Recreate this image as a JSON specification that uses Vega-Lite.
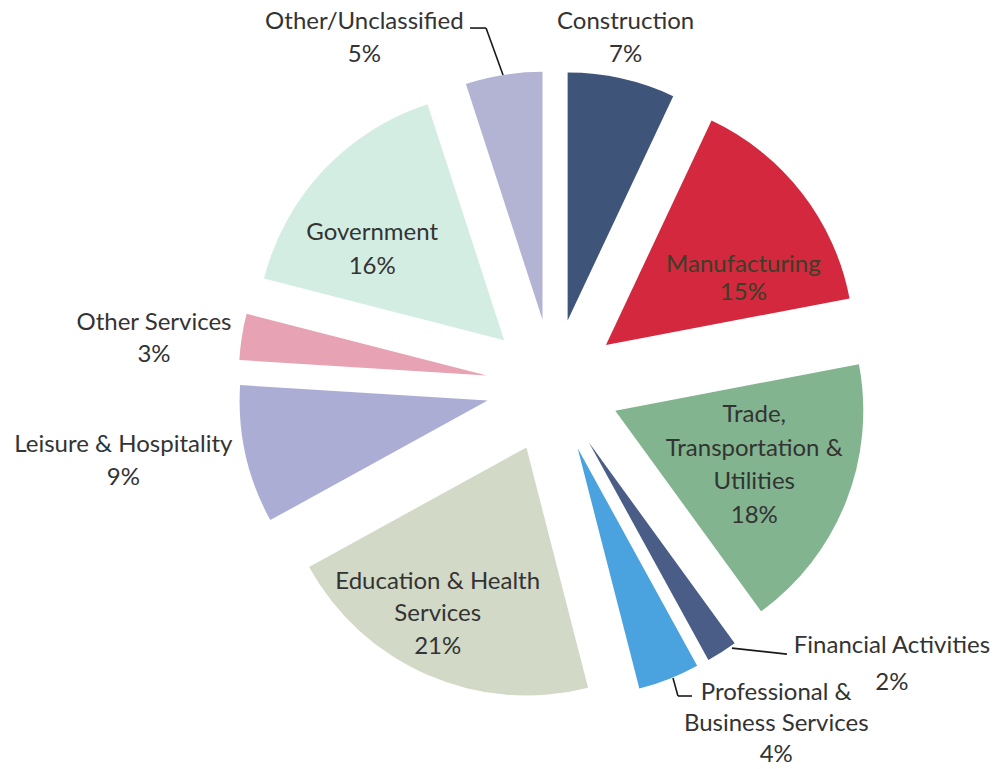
{
  "$schema": "https://vega.github.io/schema/vega-lite/v6.json",
  "width": 994,
  "height": 769,
  "autosize": {"type": "none"},
  "padding": 0,
  "background": "white",
  "config": {"view": {"stroke": null}},
  "data": {
    "values": [
      {"sector": "Construction", "share": 7, "label": "Construction\n7%"},
      {"sector": "Manufacturing", "share": 15, "label": "Manufacturing\n15%"},
      {"sector": "Trade, Transportation & Utilities", "share": 18, "label": "Trade,\nTransportation &\nUtilities\n18%"},
      {"sector": "Financial Activities", "share": 2, "label": "Financial Activities\n2%"},
      {"sector": "Professional & Business Services", "share": 4, "label": "Professional &\nBusiness Services\n4%"},
      {"sector": "Education & Health Services", "share": 21, "label": "Education & Health\nServices\n21%"},
      {"sector": "Leisure & Hospitality", "share": 9, "label": "Leisure & Hospitality\n9%"},
      {"sector": "Other Services", "share": 3, "label": "Other Services\n3%"},
      {"sector": "Government", "share": 16, "label": "Government\n16%"},
      {"sector": "Other/Unclassified", "share": 5, "label": "Other/Unclassified\n5%"}
    ]
  },
  "transform": [
    {"window": [{"op": "sum", "field": "share", "as": "cumEnd"}], "frame": [null, 0]},
    {"calculate": "datum.cumEnd - datum.share", "as": "cumStart"},
    {"calculate": "datum.cumEnd - datum.share / 2", "as": "mid"},
    {"calculate": "sin(2 * PI * datum.mid / 100)", "as": "ex"},
    {"calculate": "cos(2 * PI * datum.mid / 100)", "as": "ey"}
  ],
  "encoding": {
    "x": {"field": "ex", "type": "quantitative", "stack": null, "axis": null, "scale": {"domain": [-8.254, 6.582], "nice": false, "zero": false}},
    "y": {"field": "ey", "type": "quantitative", "stack": null, "axis": null, "scale": {"domain": [-5.716, 5.761], "nice": false, "zero": false}}
  },
  "layer": [
    {
      "mark": {"type": "arc", "radius": 248, "innerRadius": 0},
      "encoding": {
        "theta": {"field": "cumStart", "type": "quantitative", "stack": null, "scale": {"domain": [0, 100], "range": [0, 6.283185307179586]}},
        "theta2": {"field": "cumEnd"},
        "color": {
          "field": "sector", "type": "nominal", "legend": null,
          "scale": {
            "domain": ["Construction", "Manufacturing", "Trade, Transportation & Utilities", "Financial Activities", "Professional & Business Services", "Education & Health Services", "Leisure & Hospitality", "Other Services", "Government", "Other/Unclassified"],
            "range": ["#3f5479", "#d3283d", "#82b48f", "#4a5d86", "#4aa2de", "#d2d9c7", "#acadd4", "#e7a3b4", "#d4ede3", "#b3b3d3"]
          }
        }
      }
    },
    {
      "transform": [{"filter": "datum.sector === 'Other/Unclassified'"}],
      "mark": {"type": "rule", "stroke": "#1a1a1a", "strokeWidth": 1.6, "xOffset": -72.5, "yOffset": -291.8, "x2Offset": -56.5, "y2Offset": -291.8},
      "encoding": {"x2": {"field": "ex"}, "y2": {"field": "ey"}}
    },
    {
      "transform": [{"filter": "datum.sector === 'Other/Unclassified'"}],
      "mark": {"type": "rule", "stroke": "#1a1a1a", "strokeWidth": 1.6, "xOffset": -56.5, "yOffset": -291.8, "x2Offset": -39.5, "y2Offset": -244.8},
      "encoding": {"x2": {"field": "ex"}, "y2": {"field": "ey"}}
    },
    {
      "transform": [{"filter": "datum.sector === 'Financial Activities'"}],
      "mark": {"type": "rule", "stroke": "#1a1a1a", "strokeWidth": 1.6, "xOffset": 143, "yOffset": 205.5, "x2Offset": 198, "y2Offset": 211.5},
      "encoding": {"x2": {"field": "ex"}, "y2": {"field": "ey"}}
    },
    {
      "transform": [{"filter": "datum.sector === 'Professional & Business Services'"}],
      "mark": {"type": "rule", "stroke": "#1a1a1a", "strokeWidth": 1.6, "xOffset": 95.3, "yOffset": 229.7, "x2Offset": 100.3, "y2Offset": 247.7},
      "encoding": {"x2": {"field": "ex"}, "y2": {"field": "ey"}}
    },
    {
      "transform": [{"filter": "datum.sector === 'Professional & Business Services'"}],
      "mark": {"type": "rule", "stroke": "#1a1a1a", "strokeWidth": 1.6, "xOffset": 100.3, "yOffset": 247.7, "x2Offset": 114.3, "y2Offset": 247.7},
      "encoding": {"x2": {"field": "ex"}, "y2": {"field": "ey"}}
    },
    {
      "transform": [{"filter": "datum.sector === 'Construction'"}],
      "mark": {"type": "text", "radius": 304, "thetaOffset": -0.028, "font": "Lato", "fontSize": 24, "lineHeight": 33, "lineBreak": "\n", "fill": "#333333", "align": "center", "baseline": "middle"},
      "encoding": {"theta": {"field": "mid", "type": "quantitative", "stack": null}, "text": {"field": "label"}}
    },
    {
      "transform": [{"filter": "datum.sector === 'Manufacturing'"}],
      "mark": {"type": "text", "radius": 159, "thetaOffset": 0.133, "font": "Lato", "fontSize": 24, "lineHeight": 28, "lineBreak": "\n", "fill": "#3a3f2a", "align": "center", "baseline": "middle"},
      "encoding": {"theta": {"field": "mid", "type": "quantitative", "stack": null}, "text": {"field": "label"}}
    },
    {
      "transform": [{"filter": "datum.sector === 'Trade, Transportation & Utilities'"}],
      "mark": {"type": "text", "radius": 139, "thetaOffset": -0.346, "font": "Lato", "fontSize": 24, "lineHeight": 33.7, "lineBreak": "\n", "fill": "#333333", "align": "center", "baseline": "middle"},
      "encoding": {"theta": {"field": "mid", "type": "quantitative", "stack": null}, "text": {"field": "label"}}
    },
    {
      "transform": [{"filter": "datum.sector === 'Financial Activities'"}],
      "mark": {"type": "text", "radius": 365, "thetaOffset": -0.414, "font": "Lato", "fontSize": 24, "lineHeight": 37, "lineBreak": "\n", "fill": "#333333", "align": "center", "baseline": "middle"},
      "encoding": {"theta": {"field": "mid", "type": "quantitative", "stack": null}, "text": {"field": "label"}}
    },
    {
      "transform": [{"filter": "datum.sector === 'Professional & Business Services'"}],
      "mark": {"type": "text", "radius": 315, "thetaOffset": -0.305, "font": "Lato", "fontSize": 24, "lineHeight": 31, "lineBreak": "\n", "fill": "#333333", "align": "center", "baseline": "middle"},
      "encoding": {"theta": {"field": "mid", "type": "quantitative", "stack": null}, "text": {"field": "label"}}
    },
    {
      "transform": [{"filter": "datum.sector === 'Education & Health Services'"}],
      "mark": {"type": "text", "radius": 161, "thetaOffset": 0.175, "font": "Lato", "fontSize": 24, "lineHeight": 32.5, "lineBreak": "\n", "fill": "#333333", "align": "center", "baseline": "middle"},
      "encoding": {"theta": {"field": "mid", "type": "quantitative", "stack": null}, "text": {"field": "label"}}
    },
    {
      "transform": [{"filter": "datum.sector === 'Leisure & Hospitality'"}],
      "mark": {"type": "text", "radius": 367, "thetaOffset": 0.098, "font": "Lato", "fontSize": 24, "lineHeight": 33, "lineBreak": "\n", "fill": "#333333", "align": "center", "baseline": "middle"},
      "encoding": {"theta": {"field": "mid", "type": "quantitative", "stack": null}, "text": {"field": "label"}}
    },
    {
      "transform": [{"filter": "datum.sector === 'Other Services'"}],
      "mark": {"type": "text", "radius": 337, "thetaOffset": 0, "font": "Lato", "fontSize": 24, "lineHeight": 32, "lineBreak": "\n", "fill": "#333333", "align": "center", "baseline": "middle"},
      "encoding": {"theta": {"field": "mid", "type": "quantitative", "stack": null}, "text": {"field": "label"}}
    },
    {
      "transform": [{"filter": "datum.sector === 'Government'"}],
      "mark": {"type": "text", "radius": 170, "thetaOffset": -0.072, "font": "Lato", "fontSize": 24, "lineHeight": 34, "lineBreak": "\n", "fill": "#333333", "align": "center", "baseline": "middle"},
      "encoding": {"theta": {"field": "mid", "type": "quantitative", "stack": null}, "text": {"field": "label"}}
    },
    {
      "transform": [{"filter": "datum.sector === 'Other/Unclassified'"}],
      "mark": {"type": "text", "radius": 347, "thetaOffset": -0.382, "font": "Lato", "fontSize": 24, "lineHeight": 33, "lineBreak": "\n", "fill": "#333333", "align": "center", "baseline": "middle"},
      "encoding": {"theta": {"field": "mid", "type": "quantitative", "stack": null}, "text": {"field": "label"}}
    }
  ]
}
